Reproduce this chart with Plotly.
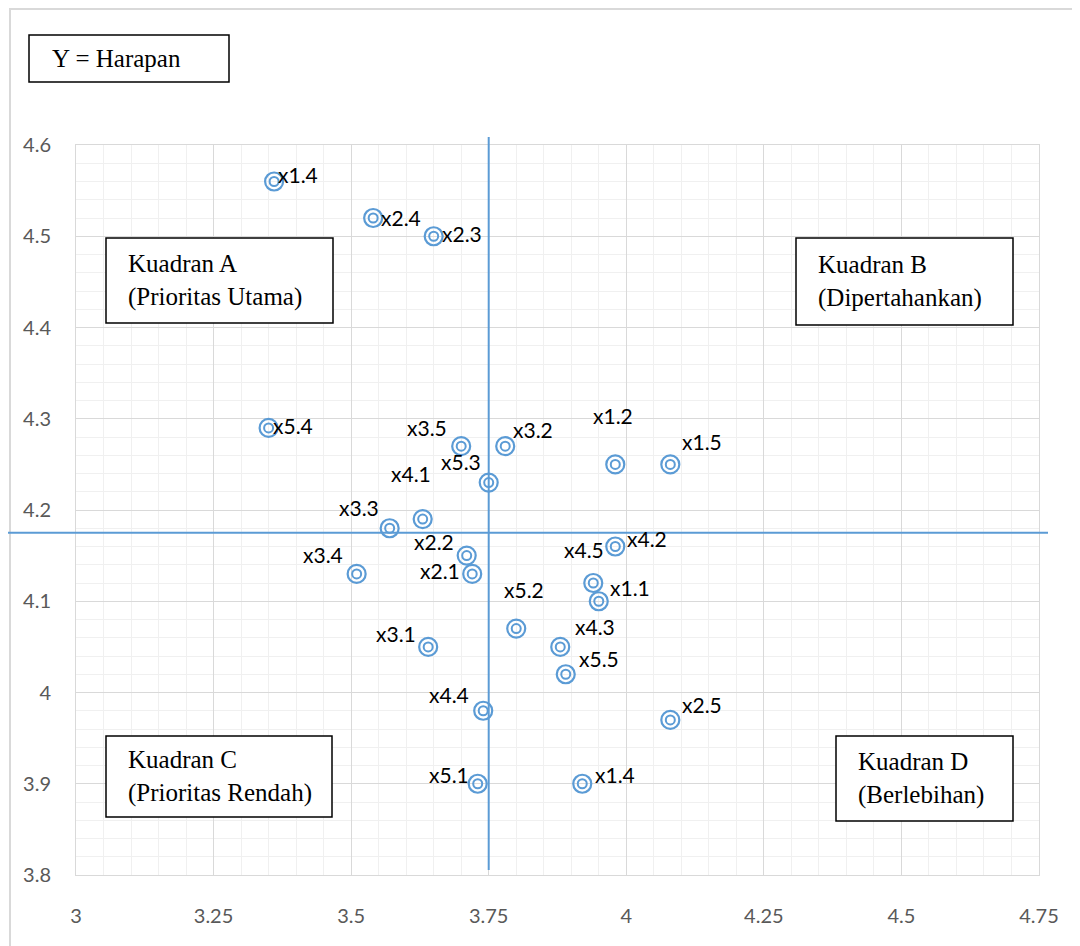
import plotly.graph_objects as go

# ---- data ----
labels = ["x1.4", "x2.4", "x2.3", "x5.4", "x3.5", "x3.2", "x5.3", "x1.2", "x1.5",
          "x4.1", "x3.3", "x2.2", "x2.1", "x3.4", "x4.2", "x4.5", "x1.1", "x5.2",
          "x3.1", "x4.3", "x5.5", "x4.4", "x2.5", "x5.1", "x1.4"]
kinerja = [3.36, 3.54, 3.65, 3.35, 3.70, 3.78, 3.75, 3.98, 4.08,
           3.63, 3.57, 3.71, 3.72, 3.51, 3.98, 3.94, 3.95, 3.80,
           3.64, 3.88, 3.89, 3.74, 4.08, 3.73, 3.92]
harapan = [4.56, 4.52, 4.50, 4.29, 4.27, 4.27, 4.23, 4.25, 4.25,
           4.19, 4.18, 4.15, 4.13, 4.13, 4.16, 4.12, 4.10, 4.07,
           4.05, 4.05, 4.02, 3.98, 3.97, 3.90, 3.90]
x_mean = 3.75
y_mean = 4.175
x_tickvals = [3, 3.25, 3.5, 3.75, 4, 4.25, 4.5, 4.75]
x_ticktext = ["3", "3.25", "3.5", "3.75", "4", "4.25", "4.5", "4.75"]
y_tickvals = [3.8, 3.9, 4.0, 4.1, 4.2, 4.3, 4.4, 4.5, 4.6]
y_ticktext = ["3.8", "3.9", "4", "4.1", "4.2", "4.3", "4.4", "4.5", "4.6"]
box_title = "Y = Harapan"
quadrant_texts = ["Kuadran A<br>(Prioritas Utama)", "Kuadran B<br>(Dipertahankan)",
                  "Kuadran C<br>(Prioritas Rendah)", "Kuadran D<br>(Berlebihan)"]

# label offsets in pixels (dx right, dy down) relative to each point
label_offsets = [(24, -7), (27.5, -1), (28, -3), (24, -2), (-34, -19), (28, -17),
                 (-28, -21), (-2, -49), (32, -23), (-12, -46), (-31, -21), (-33, -14),
                 (-32, -3), (-33.5, -19), (32, -8.5), (-9.7, -33.7), (31.5, -14),
                 (7.3, -39), (-31.7, -13), (34.4, -20.7), (33, -16), (-34.4, -16.6),
                 (32, -15), (-28.4, -9.4), (32.5, -9.4)]

# page places the figure 8px from the top-left corner
OFF = 8
W, H = 1080 - OFF, 946 - OFF
ML, MR, MT, MB = 68, 41, 137, 71
PW, PH = W - ML - MR, H - MT - MB


def px(xp):
    return (xp - OFF - ML) / PW


def py(yp):
    return (H - MB - (yp - OFF)) / PH


BLUE = "#5b9bd5"

fig = go.Figure()
fig.add_trace(go.Scatter(x=kinerja, y=harapan, mode="markers", hoverinfo="skip",
                         marker=dict(symbol="circle-open", size=18, color=BLUE,
                                     line=dict(width=2.2, color=BLUE)),
                         showlegend=False))
fig.add_trace(go.Scatter(x=kinerja, y=harapan, mode="markers", text=labels,
                         marker=dict(symbol="circle-open", size=9, color=BLUE,
                                     line=dict(width=2, color=BLUE)),
                         showlegend=False))

annotations = []
for lab, xv, yv, (dx, dy) in zip(labels, kinerja, harapan, label_offsets):
    annotations.append(dict(x=xv, y=yv, xref="x", yref="y", text=lab, showarrow=False,
                            xshift=dx, yshift=-dy, xanchor="center", yanchor="middle",
                            font=dict(family="Lato", size=21, color="#000000")))

shapes = []
# outer chart border
shapes.append(dict(type="rect", xref="paper", yref="paper", x0=px(10), x1=px(1100),
                   y0=py(960), y1=py(9), line=dict(color="#d9d9d9", width=2),
                   fillcolor="rgba(0,0,0,0)", layer="above"))
# mean lines
shapes.append(dict(type="line", xref="x", yref="paper", x0=x_mean, x1=x_mean,
                   y0=py(870), y1=py(137), line=dict(color=BLUE, width=2), layer="above"))
shapes.append(dict(type="line", xref="paper", yref="y", x0=px(0), x1=px(1048),
                   y0=y_mean, y1=y_mean, line=dict(color=BLUE, width=2), layer="above"))

# text boxes: (x0, y0, x1, y1, text_left) in reference pixels
boxes = [(106, 238, 333, 323, 126), (796, 238, 1013, 325, 816),
         (106, 736, 332, 817, 126), (836, 736, 1013, 821, 856)]
for (x0, y0, x1, y1, tl), txt in zip(boxes, quadrant_texts):
    shapes.append(dict(type="rect", xref="paper", yref="paper", x0=px(x0), x1=px(x1),
                       y0=py(y1), y1=py(y0), line=dict(color="#000000", width=1.5),
                       fillcolor="#ffffff", layer="above"))
    annotations.append(dict(x=px(tl), y=py((y0 + y1) / 2), xref="paper", yref="paper",
                            text=txt, showarrow=False, xanchor="left", yanchor="middle",
                            align="left",
                            font=dict(family="Liberation Serif", size=25, color="#000000")))

shapes.append(dict(type="rect", xref="paper", yref="paper", x0=px(29), x1=px(229),
                   y0=py(82), y1=py(35), line=dict(color="#000000", width=1.5),
                   fillcolor="#ffffff", layer="above"))
annotations.append(dict(x=px(50), y=py(58.5), xref="paper", yref="paper",
                        text=box_title, showarrow=False, xanchor="left", yanchor="middle",
                        font=dict(family="Liberation Serif", size=25, color="#000000")))

fig.update_layout(
    width=W, height=H,
    margin=dict(l=ML, r=MR, t=MT, b=MB),
    paper_bgcolor="#ffffff", plot_bgcolor="#ffffff",
    shapes=shapes, annotations=annotations,
    showlegend=False,
)
fig.update_xaxes(range=[3, 4.75], tickvals=x_tickvals, ticktext=x_ticktext,
                 showgrid=True, gridcolor="#d9d9d9", gridwidth=1,
                 minor=dict(dtick=0.05, showgrid=True, gridcolor="#f0f0f0", gridwidth=1),
                 showline=True, mirror=True, linecolor="#d9d9d9", linewidth=1,
                 zeroline=False, ticks="", ticklabelstandoff=23,
                 tickfont=dict(family="Lato", size=20, color="#595959"))
fig.update_yaxes(range=[3.8, 4.6], tickvals=y_tickvals, ticktext=y_ticktext,
                 showgrid=True, gridcolor="#d9d9d9", gridwidth=1,
                 minor=dict(dtick=0.02, showgrid=True, gridcolor="#f0f0f0", gridwidth=1),
                 showline=True, mirror=True, linecolor="#d9d9d9", linewidth=1,
                 zeroline=False, ticks="", ticklabelstandoff=20,
                 tickfont=dict(family="Lato", size=20, color="#595959"))

fig.write_html("out.html")
